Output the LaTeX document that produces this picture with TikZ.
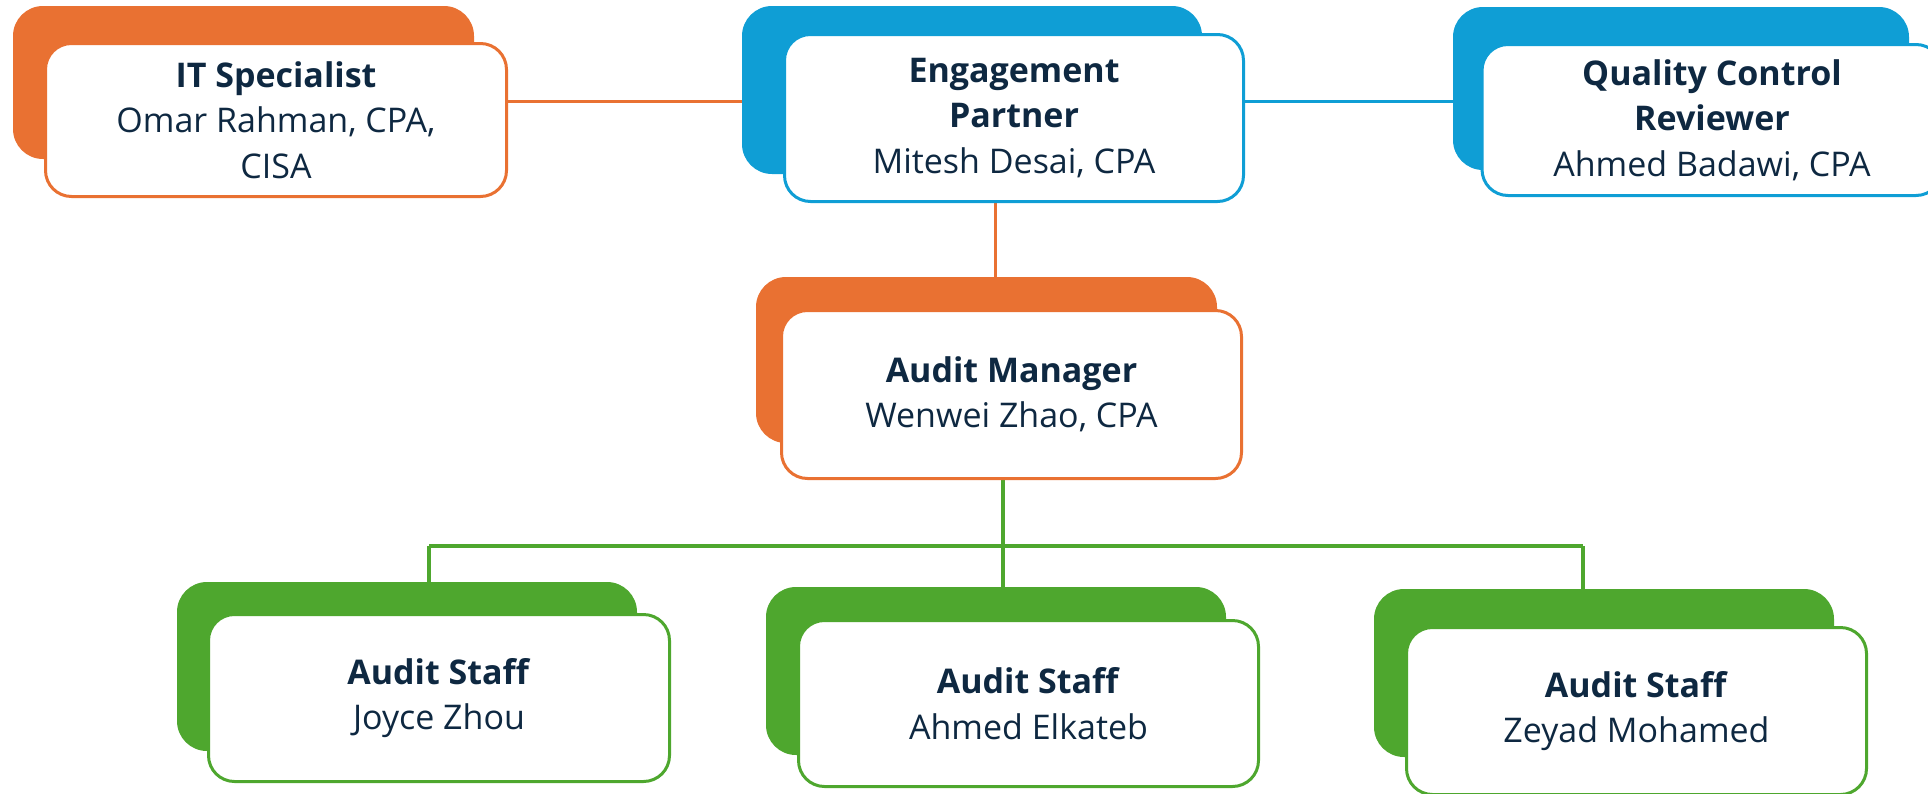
\documentclass[tikz,border=0pt]{standalone}
\usepackage{fontspec}
\setmainfont{Open Sans}
\definecolor{orng}{HTML}{E97132}
\definecolor{blu}{HTML}{0F9ED5}
\definecolor{grn}{HTML}{4EA72E}
\definecolor{ink}{HTML}{0E2841}
\pgfdeclarelayer{bg}
\pgfsetlayers{bg,main}
\begin{document}
\begin{tikzpicture}[x=1pt,y=-1pt,
  backbox/.style={rectangle, rounded corners=30pt, fill=#1, draw=none, inner sep=0pt},
  frontbox/.style={rectangle, rounded corners=26pt, fill=white, draw=#1, line width=3pt,
    inner sep=0pt, text=ink, align=center, font=\fontsize{34}{45.5}\selectfont},
  sz/.style 2 args={minimum width=#1pt, minimum height=#2pt},
  link/.style={draw=#1, line width=3pt}]
\useasboundingbox (0,0) rectangle (1928,793);
\clip (0,0) rectangle (1928,793);
% back boxes
\node[backbox=orng, sz={461}{153}] (itb) at (243.5,82.5) {};
\node[backbox=blu,  sz={460}{168}] (epb) at (972,90) {};
\node[backbox=blu,  sz={456}{163}] (qcb) at (1681,88.5) {};
\node[backbox=orng, sz={461}{166}] (amb) at (986.5,360) {};
\node[backbox=grn,  sz={460}{169}] (s1b) at (407,666.5) {};
\node[backbox=grn,  sz={460}{168}] (s2b) at (996,671) {};
\node[backbox=grn,  sz={460}{168}] (s3b) at (1604,673) {};
% front boxes
\node[frontbox=orng, sz={461}{153}] (itf) at (276,120) {\textbf{IT Specialist}\\Omar Rahman, CPA,\\CISA};
\node[frontbox=blu,  sz={459}{167}] (epf) at (1014,118) {\textbf{Engagement}\\\textbf{Partner}\\Mitesh Desai, CPA};
\node[frontbox=blu,  sz={460}{151}] (qcf) at (1712,120) {\textbf{Quality Control}\\\textbf{Reviewer}\\Ahmed Badawi, CPA};
\node[frontbox=orng, sz={460}{168}] (amf) at (1011.5,394.5) {\textbf{Audit Manager}\\Wenwei Zhao, CPA};
\node[frontbox=grn,  sz={461}{167}] (s1f) at (439,698) {\textbf{Audit Staff}\\Joyce Zhou};
\node[frontbox=grn,  sz={460}{166}] (s2f) at (1028.5,703.5) {\textbf{Audit Staff}\\Ahmed Elkateb};
\node[frontbox=grn,  sz={460}{167}] (s3f) at (1636.5,711) {\textbf{Audit Staff}\\Zeyad Mohamed};
% connectors
\coordinate (gl) at (429,546);
\coordinate (gj) at (1003,546);
\coordinate (gr) at (1583,546);
\begin{pgfonlayer}{bg}
\draw[link=orng] ([yshift=19pt]itf.east) -- ([yshift=19pt]itf.east -| epb.west);
\draw[link=blu] ([yshift=17pt]epf.east) -- ([yshift=17pt]epf.east -| qcb.west);
\draw[link=orng] ([xshift=-19pt]epf.south) -- ([xshift=-19pt]epf.south |- amb.north);
\draw[link=grn, line width=3.5pt] (amf.south -| gj) -- (gj);
\draw[link=grn, line width=3.5pt] (gl) -- (gr);
\draw[link=grn, line width=3.5pt] (gl) -- (gl |- s1b.north);
\draw[link=grn, line width=3.5pt] (gj) -- (gj |- s2b.north);
\draw[link=grn, line width=3.5pt] (gr) -- (gr |- s3b.north);
\end{pgfonlayer}
\end{tikzpicture}
\end{document}
